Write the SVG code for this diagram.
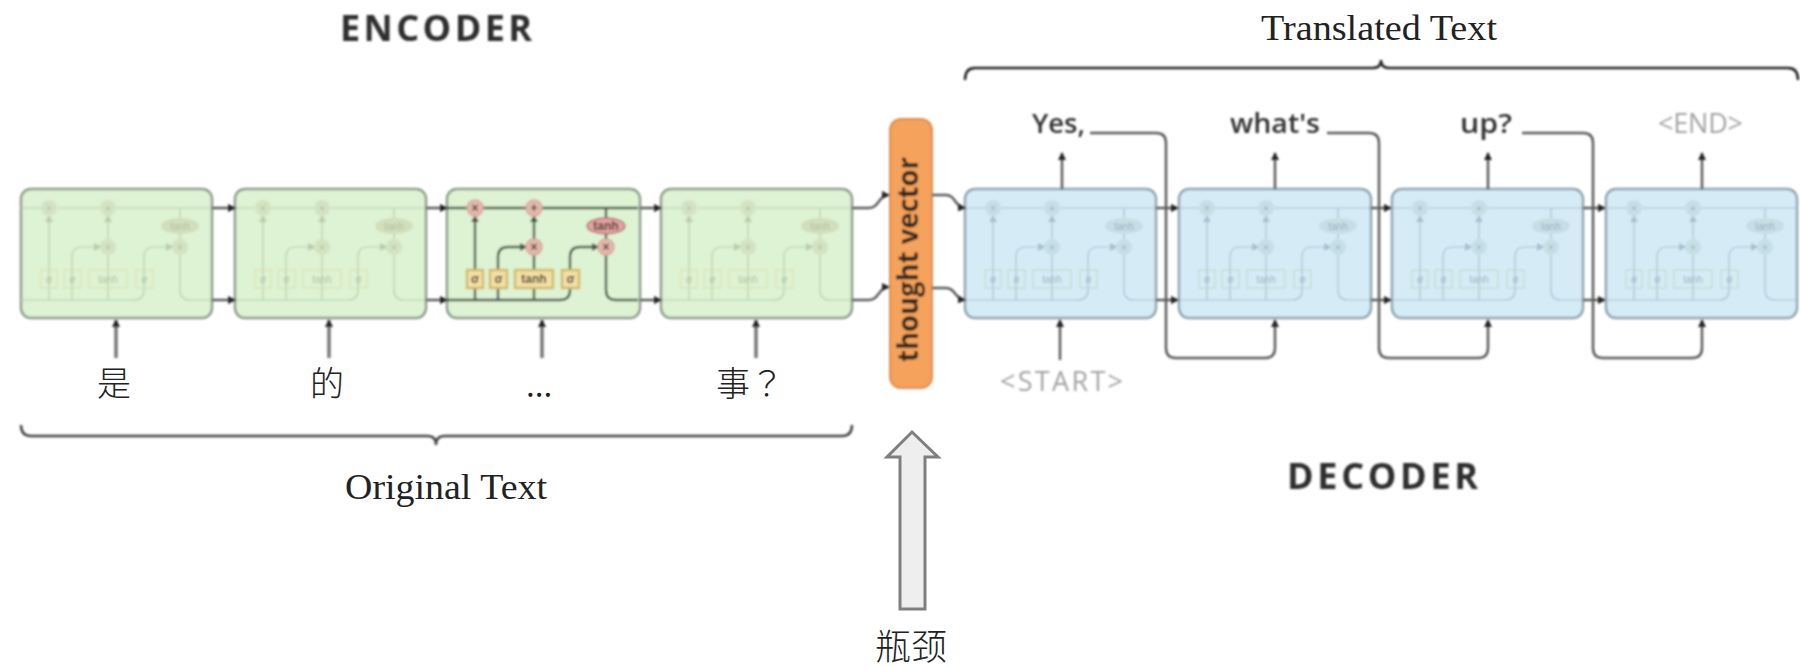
<svg xmlns="http://www.w3.org/2000/svg" width="1800" height="667" viewBox="0 0 1800 667">
<style>
.soft{filter:url(#soft)}
.cellbox{stroke-width:2.5}
.enc .cellbox{fill:#def3d3;stroke:#8d9c8b}
.dec .cellbox{fill:#d5ecf7;stroke:#8ea4ae}
.ln{fill:none;stroke:currentColor;stroke-width:var(--w)}
.ah{fill:currentColor;stroke:none}
.bx{fill:var(--boxfill);stroke:var(--box);stroke-width:var(--w)}
.dt{fill:var(--dot);stroke:var(--dotline);stroke-width:1.5}
.ov{fill:var(--oval);stroke:var(--ovalline);stroke-width:1.5}
.lb{font-family:"Liberation Sans",sans-serif;font-size:var(--fs);text-anchor:middle;fill:var(--ink);font-weight:var(--inkw)}
.genc{color:#b7cdab;--w:1.2px;--box:#dbe2b0;--boxfill:none;--dot:#d3e3c2;--dotline:none;--oval:#d2dfbc;--ovalline:none;--ink:#aebd9f;--inkw:400;--fs:10px}
.gdec{color:#a7c1cd;--w:1.2px;--box:#bddbca;--boxfill:none;--dot:#c6dfe6;--dotline:none;--oval:#c6dfe6;--ovalline:none;--ink:#99aeb9;--inkw:400;--fs:10px}
.live{color:#48584a;--w:2.4px;--box:#d2b968;--boxfill:#f3e0a6;--dot:#e3b8ac;--dotline:#d8a69c;--oval:#e2a3a0;--ovalline:#b8707a;--ink:#4a3528;--inkw:700;--fs:12px}
.wire{fill:none;stroke:#5c5c5c;stroke-width:2.5}
.wireh{marker-end:url(#head)}
.inp{stroke:#777;stroke-width:3.5}
.serif{font-family:"Liberation Serif",serif;fill:#222;font-size:35px}
.cjk{font-family:"Noto Sans CJK SC",sans-serif;fill:#222;font-size:34px;font-weight:300}
.title{font-family:"Open Sans",sans-serif;font-weight:700;font-size:36px;fill:#2d2d2d}
.word{font-family:"Open Sans",sans-serif;font-weight:600;font-size:27px;fill:#333}
.tok{font-family:"Open Sans",sans-serif;font-size:27px;fill:#a3a3a3}
</style>
<defs>
<filter id="soft" x="-5%" y="-5%" width="110%" height="110%"><feGaussianBlur stdDeviation="0.8"/></filter>
<marker id="head" markerUnits="userSpaceOnUse" markerWidth="9" markerHeight="9" refX="7" refY="4.5" orient="auto"><path d="M0 0.5L8 4.5L0 8.5Z" fill="#222"/></marker>
<g id="internals">
<path class="ln" d="M0 19H191"/>
<path class="ln" d="M0 111H113Q123 111 123 101V68Q123 58 133 58H146"/>
<path class="ah" d="M145 54L153 58L145 62Z"/>
<path class="ln" d="M159 66V101Q159 111 169 111H191"/>
<path class="ln" d="M28 111V32"/>
<path class="ah" d="M24 33L28 26L32 33Z"/>
<path class="ln" d="M51 111V68Q51 58 61 58H74"/>
<path class="ah" d="M73 54L81 58L73 62Z"/>
<path class="ln" d="M87 111V66"/>
<path class="ln" d="M87 50V32"/>
<path class="ah" d="M83 33L87 26L91 33Z"/>
<path class="ln" d="M159 19V29M159 45V50"/>
<rect class="bx" x="20" y="81" width="16" height="18"/>
<rect class="bx" x="43" y="81" width="17" height="18"/>
<rect class="bx" x="68" y="81" width="38" height="18"/>
<rect class="bx" x="115" y="81" width="17" height="18"/>
<circle class="dt" cx="28" cy="19" r="8"/>
<circle class="dt" cx="87" cy="19" r="8"/>
<circle class="dt" cx="87" cy="58" r="8"/>
<circle class="dt" cx="159" cy="58" r="8"/>
<ellipse class="ov" cx="159" cy="37" rx="19" ry="8"/>
<text class="lb" x="28" y="23">×</text>
<text class="lb" x="87" y="23">+</text>
<text class="lb" x="87" y="62">×</text>
<text class="lb" x="159" y="62">×</text>
<text class="lb" x="159" y="41">tanh</text>
<text class="lb" x="28" y="94">σ</text>
<text class="lb" x="51.500" y="94">σ</text>
<text class="lb" x="87" y="94">tanh</text>
<text class="lb" x="123.500" y="94">σ</text>
</g>
</defs>
<rect width="1800" height="667" fill="#fff"/>

<g id="enc-cell-1" class="enc soft" transform="translate(21,189)"><rect class="cellbox" width="191" height="129" rx="10"/><use href="#internals" class="genc"/></g>
<g id="enc-cell-2" class="enc soft" transform="translate(235,189)"><rect class="cellbox" width="191" height="129" rx="10"/><use href="#internals" class="genc"/></g>
<g id="enc-cell-3" class="enc soft" transform="translate(447,189)"><rect class="cellbox" width="193" height="129" rx="10"/><use href="#internals" class="live"/></g>
<g id="enc-cell-4" class="enc soft" transform="translate(661,189)"><rect class="cellbox" width="191" height="129" rx="10"/><use href="#internals" class="genc"/></g>
<g id="dec-cell-1" class="dec soft" transform="translate(965,189)"><rect class="cellbox" width="191" height="129" rx="10"/><use href="#internals" class="gdec"/></g>
<g id="dec-cell-2" class="dec soft" transform="translate(1179,189)"><rect class="cellbox" width="192" height="129" rx="10"/><use href="#internals" class="gdec"/></g>
<g id="dec-cell-3" class="dec soft" transform="translate(1392,189)"><rect class="cellbox" width="191" height="129" rx="10"/><use href="#internals" class="gdec"/></g>
<g id="dec-cell-4" class="dec soft" transform="translate(1606,189)"><rect class="cellbox" width="191" height="129" rx="10"/><use href="#internals" class="gdec"/></g>

<g id="thought-vector" class="soft">
<rect x="890" y="119" width="42" height="269" rx="11" fill="#f5a25c" stroke="#dd8f50" stroke-width="2"/>
<text class="word" transform="translate(918,362) rotate(-90)" textLength="205" lengthAdjust="spacingAndGlyphs" style="font-size:28px;font-weight:700;fill:#33281f">thought vector</text>
</g>

<g id="connectors" class="soft">
<path class="wire wireh" d="M212 208H235"/>
<path class="wire wireh" d="M212 300H235"/>
<path class="wire wireh" d="M426 208H447"/>
<path class="wire wireh" d="M426 300H447"/>
<path class="wire wireh" d="M640 208H661"/>
<path class="wire wireh" d="M640 300H661"/>
<path class="wire wireh inp" d="M116 358V320"/>
<path class="wire wireh inp" d="M329 358V320"/>
<path class="wire wireh inp" d="M542 358V320"/>
<path class="wire wireh inp" d="M756 358V320"/>
<path class="wire wireh" d="M852 208H868C880 208 878 195 889 195"/>
<path class="wire wireh" d="M852 300H868C880 300 878 287 889 287"/>
<path class="wire wireh" d="M932 195H946C956 195 954 207 965 208"/>
<path class="wire wireh" d="M932 288H946C956 288 954 299 965 300"/>
<path class="wire wireh" d="M1156 208H1178"/>
<path class="wire wireh" d="M1156 300H1178"/>
<path class="wire wireh" d="M1371 208H1391"/>
<path class="wire wireh" d="M1371 300H1391"/>
<path class="wire wireh" d="M1583 208H1605"/>
<path class="wire wireh" d="M1583 300H1605"/>
<path class="wire wireh" d="M1062 189V153"/>
<path class="wire wireh" d="M1275 189V153"/>
<path class="wire wireh" d="M1488 189V153"/>
<path class="wire wireh" d="M1702 189V153"/>
<path class="wire wireh" d="M1060 360V320"/>
<path class="wire wireh" d="M1090 133H1156Q1166 133 1166 143V348Q1166 358 1176 358H1265Q1275 358 1275 348V320"/>
<path class="wire wireh" d="M1327 133H1369Q1379 133 1379 143V348Q1379 358 1389 358H1478Q1488 358 1488 348V320"/>
<path class="wire wireh" d="M1522 133H1583Q1593 133 1593 143V348Q1593 358 1603 358H1692Q1702 358 1702 348V320"/>
<path id="bracket-translated" d="M965 80Q965 68 975 68H1373Q1381 68 1381 60Q1381 68 1389 68H1788Q1798 68 1798 80" fill="none" stroke="#222" stroke-width="2.5"/>
<path id="bracket-original" d="M21 425Q21 436 31 436H428Q436 436 436 445Q436 436 444 436H842Q852 436 852 425" fill="none" stroke="#444" stroke-width="2.5"/>
</g>

<g id="label-encoder" class="soft"><text class="title" x="340" y="41" textLength="192" lengthAdjust="spacing">ENCODER</text></g>
<g id="label-decoder" class="soft"><text class="title" x="1287" y="489" textLength="191" lengthAdjust="spacing">DECODER</text></g>
<g id="label-translated"><text class="serif" x="1261" y="40" textLength="236" lengthAdjust="spacingAndGlyphs">Translated Text</text></g>
<g id="label-original"><text class="serif" x="345" y="499" textLength="202" lengthAdjust="spacingAndGlyphs">Original Text</text></g>

<g id="word-yes" class="soft"><text class="word" x="1032" y="133" textLength="53" lengthAdjust="spacingAndGlyphs">Yes,</text></g>
<g id="word-whats" class="soft"><text class="word" x="1230" y="133" textLength="90" lengthAdjust="spacingAndGlyphs">what's</text></g>
<g id="word-up" class="soft"><text class="word" x="1460" y="133" textLength="52" lengthAdjust="spacingAndGlyphs">up?</text></g>
<g id="word-end" class="soft"><text class="tok" x="1658" y="133" textLength="85" lengthAdjust="spacing">&lt;END&gt;</text></g>
<g id="word-start" class="soft"><text class="tok" x="1000" y="391" textLength="123" lengthAdjust="spacing">&lt;START&gt;</text></g>

<g id="input-1"><text class="cjk" x="114" y="396" text-anchor="middle">是</text></g>
<g id="input-2"><text class="cjk" x="327" y="396" text-anchor="middle">的</text></g>
<g id="input-3"><text class="serif" x="539" y="397" text-anchor="middle">...</text></g>
<g id="input-4"><text class="cjk" x="716" y="396">事<tspan style="font-family:'Noto Sans CJK TC',sans-serif">？</tspan></text></g>

<g id="bottleneck">
<path d="M912 432L938 457H925V609H900V457H887Z" fill="#eeeeee" stroke="#7f7f7f" stroke-width="3"/>
<text class="cjk" x="911" y="660" text-anchor="middle" style="font-size:36px">瓶颈</text>
</g>
</svg>
